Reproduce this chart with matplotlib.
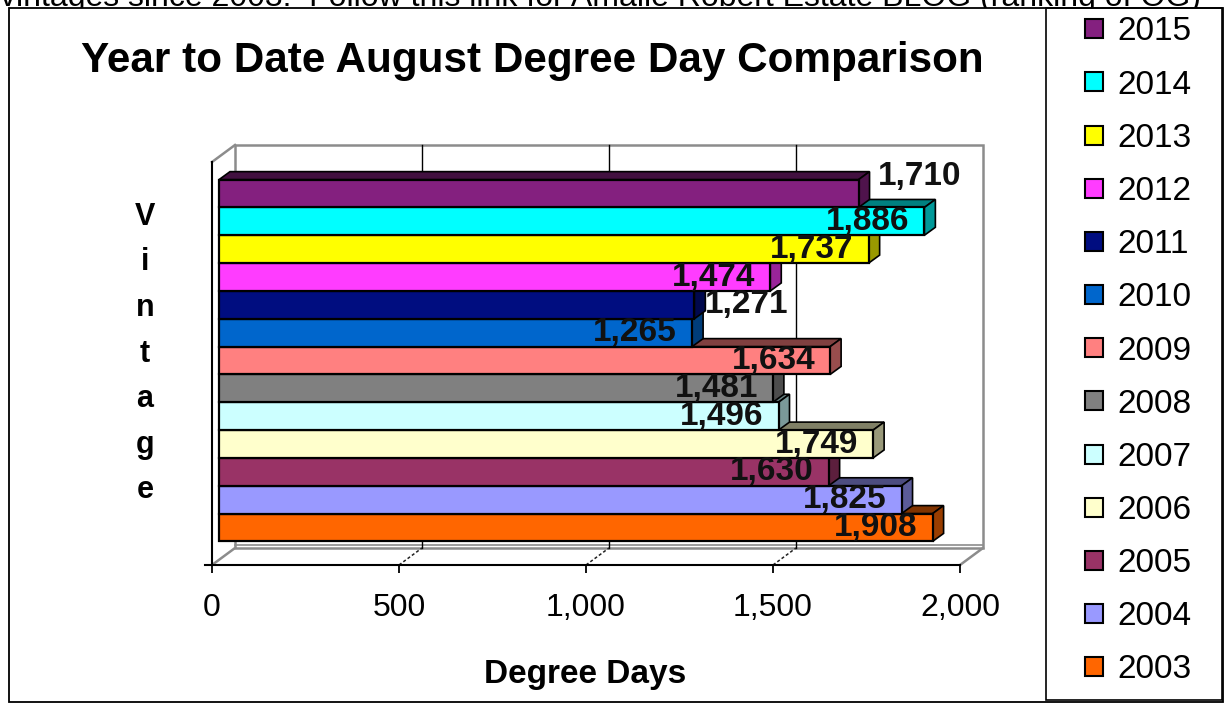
import numpy as np
import matplotlib.pyplot as plt
from matplotlib.patches import Polygon, Rectangle, Patch
from matplotlib.colors import to_rgb

plt.rcParams['font.family'] = ['Liberation Sans', 'DejaVu Sans']

# data (top to bottom, as in the legend)
years = ['2015', '2014', '2013', '2012', '2011', '2010', '2009',
         '2008', '2007', '2006', '2005', '2004', '2003']
degree_days = [1710, 1886, 1737, 1474, 1271, 1265, 1634,
               1481, 1496, 1749, 1630, 1825, 1908]
colors = ['#84207f', '#00ffff', '#ffff00', '#ff3cff', '#000d80', '#0066cc', '#ff8080',
          '#808080', '#ccffff', '#ffffcc', '#993366', '#9999ff', '#ff6600']
ticks = [0, 500, 1000, 1500, 2000]
tick_labels = ['0', '500', '1,000', '1,500', '2,000']
title = 'Year to Date August Degree Day Comparison'
xlabel = 'Degree Days'
ylabel = 'Vintage'
header = 'vintages since 2003.  Follow this link for Amalie Robert Estate BLOG (ranking of OG)'

W, H = 1225, 704
fig = plt.figure(figsize=(W / 100, H / 100), dpi=100)

# chart area + legend box
fig.add_artist(Rectangle((9 / W, 1 - 702 / H), 1214 / W, 694 / H, transform=fig.transFigure,
                         fc='white', ec='black', lw=1.3, zorder=-1))
fig.add_artist(Rectangle((1046 / W, 1 - 700 / H), 176 / W, 692 / H, transform=fig.transFigure,
                         fc='none', ec='black', lw=1.2, zorder=-0.5))
# page text above the chart, mostly hidden behind it
fig.text(0, 1 - 6 / H, header, fontsize=23, va='baseline', ha='left', zorder=-2)

# axes: 0 -> px 212, 2000 -> px 960 ; y unit = one bar
s = 2000 / 748
u = 27.83
ax = fig.add_axes([195 / W, 1 - 575 / H, 805 / W, 435 / H])
ax.set_xlim((195 - 212) * s, (1000 - 212) * s)
ax.set_ylim((565 - 575) / u, (565 - 140) / u)
ax.patch.set_visible(False)

DX, DY = 23 * s, 17 / u            # wall depth
BX = 7 * s                         # bar plane offset
bdx, bdy = 11 * s, 8 / u           # bar depth
ytop_back = (565 - 145) / u
ytop_front = (565 - 162) / u
wall = '#8c8c8c'

# back wall, floor, left wall
ax.add_patch(Rectangle((DX, DY), 2000, ytop_back - DY, fc='white', ec=wall, lw=1.8, zorder=0.5))
ax.plot([0, DX], [ytop_front, ytop_back], color=wall, lw=1.8, zorder=0.6)
ax.plot([0, DX], [0, DY], color=wall, lw=1.8, zorder=0.6)
ax.plot([2000, 2000 + DX], [0, DY], color=wall, lw=1.8, zorder=0.6)
ax.plot([DX, 2000 + DX], [DY + 3 / u, DY + 3 / u], color=wall, lw=1.2, zorder=0.6)
for t in ticks[1:-1]:
    ax.plot([t + DX, t + DX], [DY, ytop_back], color='black', lw=1.0, zorder=0.7)
    ax.plot([t, t + DX], [0, DY], color='#222222', lw=1.1, ls=(0, (2, 1.5)), zorder=0.7)

# bars (2003 at the bottom)
vals = np.array(degree_days[::-1])
cols = colors[::-1]
labs = years[::-1]
ypos = 1.347 + np.arange(len(vals))


def shade(c, f):
    r, g, b = to_rgb(c)
    return (r * f, g * f, b * f)


ax.barh(ypos, vals, left=BX, height=1.0, color=cols, edgecolor='black', lw=1.6, zorder=3)
for k, (v, yc, c) in enumerate(zip(vals, ypos, cols)):
    x1 = BX + v
    yb, yt = yc - 0.5, yc + 0.5
    top = [(BX, yt), (x1, yt), (x1 + bdx, yt + bdy), (BX + bdx, yt + bdy)]
    side = [(x1, yb), (x1 + bdx, yb + bdy), (x1 + bdx, yt + bdy), (x1, yt)]
    ax.add_patch(Polygon(top, closed=True, fc=shade(c, 0.5), ec='black', lw=1.2, zorder=2 + k * 0.01))
    ax.add_patch(Polygon(side, closed=True, fc=shade(c, 0.6), ec='black', lw=1.2, zorder=2 + k * 0.01))

# value labels
outside = {'2015': 0.62, '2011': 0.0}
for v, yc, yr in zip(vals, ypos, labs):
    txt = f'{v:,}'
    if yr in outside:
        ax.text(BX + v + bdx + 4 * s * (2 if outside[yr] else 0), yc + outside[yr], txt,
                ha='left', va='center', fontsize=24, fontweight='bold', color='#111111', zorder=6)
    else:
        ax.text(BX + v - 15 * s, yc, txt, ha='right', va='center',
                fontsize=24, fontweight='bold', color='#111111', zorder=6)

# axis lines / ticks
for sp in ['top', 'right']:
    ax.spines[sp].set_visible(False)
ax.spines['bottom'].set_position(('data', 0))
ax.spines['bottom'].set_bounds((205 - 212) * s, 2000)
ax.spines['bottom'].set_linewidth(1.5)
ax.spines['left'].set_position(('data', 0))
ax.spines['left'].set_bounds(0, ytop_front)
ax.spines['left'].set_linewidth(1.5)
ax.set_yticks([])
ax.set_xticks(ticks, tick_labels)
ax.tick_params(axis='x', direction='out', length=6, width=1.3, pad=14, labelsize=23)

# titles
fig.text(532 / W, 1 - 72 / H, title, ha='center', va='baseline', fontsize=30.4, fontweight='bold')
fig.text(585 / W, 1 - 683 / H, xlabel, ha='center', va='baseline', fontsize=24, fontweight='bold')
for k, ch in enumerate(ylabel):
    fig.text(145 / W, 1 - (225 + 45.5 * k) / H, ch, ha='center', va='baseline',
             fontsize=22, fontweight='bold')

# legend
handles = [Patch(facecolor=c, edgecolor='black', lw=1.5) for c in colors]
fig.legend(handles, years, loc='upper left', bbox_to_anchor=(1085 / W, 1 - 16.5 / H),
           frameon=False, fontsize=24, borderpad=0, borderaxespad=0,
           handlelength=0.55, handleheight=0.5, handletextpad=0.42, labelspacing=0.665)

fig.savefig('out.png', dpi=100)
